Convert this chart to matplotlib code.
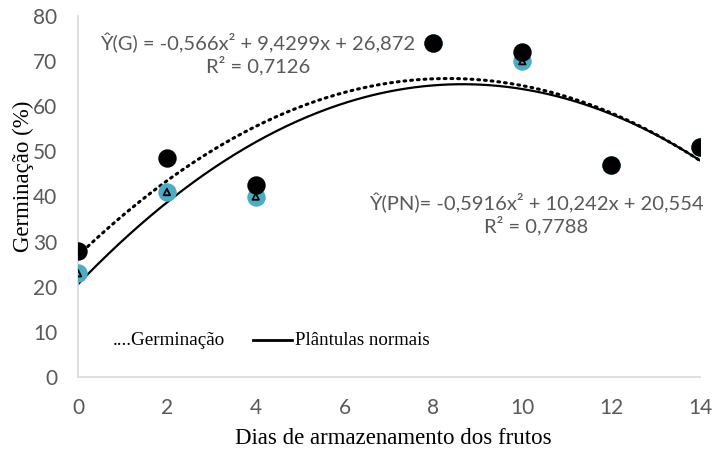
import numpy as np
import matplotlib
matplotlib.use("Agg")
import matplotlib.pyplot as plt
from matplotlib.lines import Line2D

dias = [0, 2, 4, 8, 10, 12, 14]
germinacao = [28, 48.5, 42.5, 74, 72, 47, 51]
plantulas = [23, 41, 40, 74, 70, 47, 51]
coef_g = [-0.566, 9.4299, 26.872]
coef_pn = [-0.5916, 10.242, 20.554]
eq_g = "Ŷ(G) = -0,566x² + 9,4299x + 26,872\nR² = 0,7126"
eq_pn = "Ŷ(PN)= -0,5916x² + 10,242x + 20,554\nR² = 0,7788"
xticks = [0, 2, 4, 6, 8, 10, 12, 14]
yticks = [0, 10, 20, 30, 40, 50, 60, 70, 80]

W, H = 714, 450
fig = plt.figure(figsize=(W / 100, H / 100), dpi=100)
ax = fig.add_axes([78 / W, 1 - 377 / H, (700 - 78) / W, (377 - 16) / H])

xs = np.linspace(0, 14, 300)
ax.plot(xs, np.polyval(coef_pn, xs), color="black", lw=1.6, zorder=2)
ax.plot(xs, np.polyval(coef_g, xs), color="black", lw=2.2, linestyle=(0, (0.6, 1.6)),
        dash_capstyle="round", zorder=2)

ax.scatter(dias, plantulas, s=150, color="#4BACC6", zorder=3)
ax.scatter(dias, plantulas, s=22, marker="^", facecolor="none", edgecolor="black", lw=1.3, zorder=4)
ax.scatter(dias, germinacao, s=150, color="black", zorder=5)

ax.set_xlim(0, 14)
ax.set_ylim(0, 80)
ax.set_xticks(xticks)
ax.set_yticks(yticks)
ax.tick_params(axis="y", length=0, labelsize=15, labelcolor="#595959", pad=15)
ax.tick_params(axis="x", length=0, labelsize=15, labelcolor="#595959", pad=15)
for lab in ax.get_xticklabels() + ax.get_yticklabels():
    lab.set_family("Lato")
for s in ["top", "right"]:
    ax.spines[s].set_visible(False)
for s in ["left", "bottom"]:
    ax.spines[s].set_color("#d9d9d9")
    ax.spines[s].set_linewidth(1.2)

fig.text(23 / W, 1 - 176 / H, "Germinação (%)", rotation=90, ha="center", va="center",
         family="Liberation Serif", fontsize=16.5)
fig.text(393 / W, 1 - 444 / H, "Dias de armazenamento dos frutos", ha="center", va="baseline",
         family="Liberation Serif", fontsize=16.5)

fig.text(258 / W, 1 - 54 / H, eq_g, ha="center", va="center", fontsize=14.5,
         color="#595959", family="Lato", linespacing=1.2)
fig.text(536 / W, 1 - 214 / H, eq_pn, ha="center", va="center", fontsize=14.5,
         color="#595959", family="Lato", linespacing=1.2)

fig.text(113 / W, 1 - 345 / H, "....Germinação", ha="left", va="baseline",
         fontsize=13.8, family="Liberation Serif")
fig.add_artist(Line2D([253 / W, 292 / W], [1 - 340 / H, 1 - 340 / H],
                      color="black", lw=2, transform=fig.transFigure))
fig.text(295 / W, 1 - 345 / H, "Plântulas normais", ha="left", va="baseline",
         fontsize=13.6, family="Liberation Serif")

fig.savefig("out.png", dpi=100)
